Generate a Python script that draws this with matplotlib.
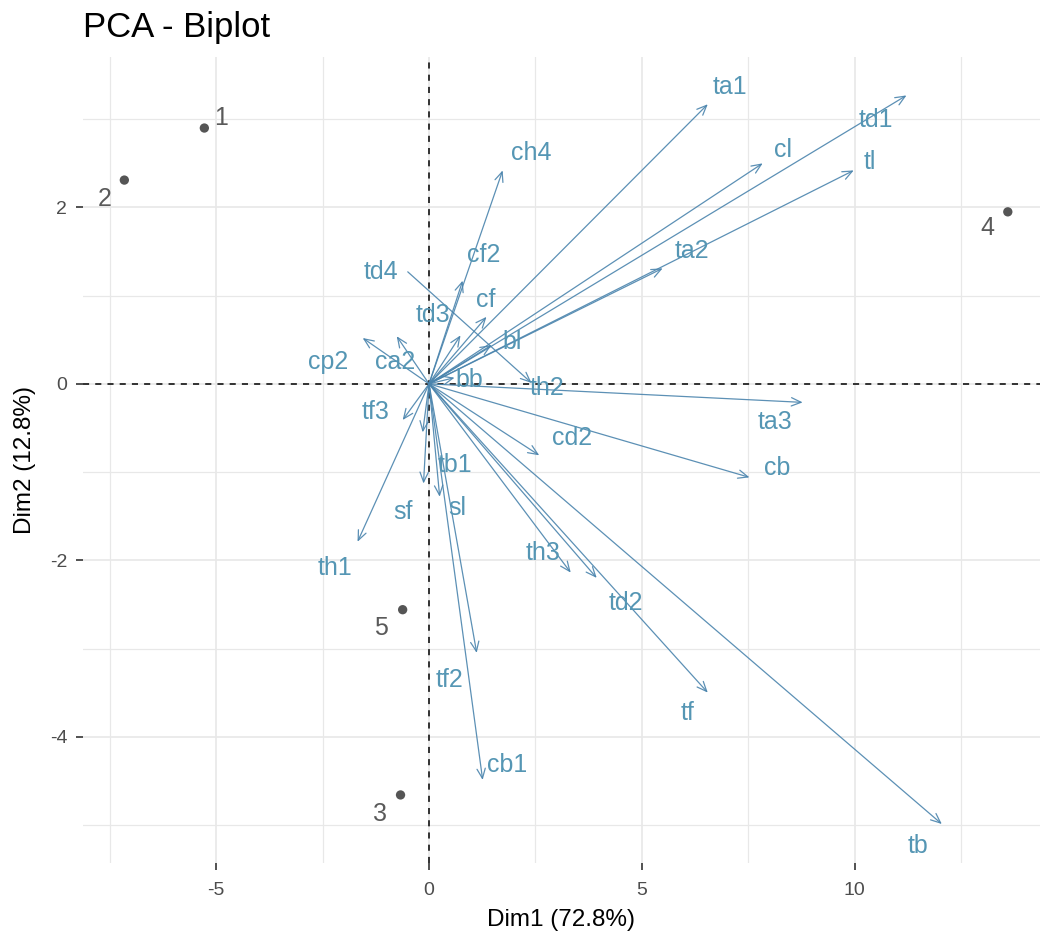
import matplotlib
matplotlib.use("Agg")
import matplotlib.pyplot as plt
import numpy as np

plt.rcParams['font.family'] = ['Liberation Sans', 'DejaVu Sans']

# Individuals (rows)
ind_names = ["1", "2", "3", "4", "5"]
ind_x = [-5.28, -7.16, -0.67, 13.60, -0.62]
ind_y = [2.90, 2.31, -4.66, 1.95, -2.56]
ind_lab_x = [-4.88, -7.63, -1.16, 13.13, -1.12]
ind_lab_y = [3.01, 2.10, -4.88, 1.77, -2.77]

# Variables (arrows)
var_names = ["ta1", "td1", "cl", "tl", "ta2", "ch4", "cf2", "td4", "cf", "td3",
             "bl", "cp2", "ca2", "bb", "th2", "tf3", "ta3", "cd2", "cb", "tb1",
             "sf", "sl", "th1", "th3", "td2", "tf2", "tf", "cb1", "tb"]
var_x = [6.55, 11.22, 7.84, 9.98, 5.49, 1.73, 0.79, -0.50, 1.35, 0.74,
         1.47, -1.56, -0.76, 0.60, 2.41, -0.62, 8.78, 2.59, 7.53, -0.15,
         -0.13, 0.25, -1.68, 3.33, 3.94, 1.12, 6.55, 1.26, 12.05]
var_y = [3.17, 3.27, 2.50, 2.42, 1.31, 2.42, 1.17, 1.27, 0.76, 0.55,
         0.44, 0.52, 0.54, 0.07, 0.01, -0.41, -0.21, -0.81, -1.06, -0.55,
         -1.13, -1.28, -1.79, -2.14, -2.20, -3.05, -3.50, -4.49, -4.99]
# where each arrow starts: "0" = origin, a name = that variable's tip,
# the variable's own name = no arrow drawn
var_start = ["0"] * 7 + ["td4"] + ["0"] * 6 + ["td4"] + ["0"] * 14
var_lab_x = [7.06, 10.49, 8.31, 10.35, 6.17, 2.41, 1.28, -1.12, 1.33, 0.08,
             1.96, -2.36, -0.79, 0.95, 2.78, -1.26, 8.14, 3.35, 8.17, 0.60,
             -0.62, 0.67, -2.22, 2.69, 4.62, 0.48, 6.08, 1.84, 11.48]
var_lab_y = [3.36, 2.99, 2.65, 2.51, 1.51, 2.62, 1.46, 1.27, 0.95, 0.78,
             0.47, 0.25, 0.25, 0.04, -0.05, -0.32, -0.43, -0.61, -0.95, -0.92,
             -1.45, -1.41, -2.09, -1.92, -2.48, -3.36, -3.73, -4.32, -5.24]

x_label = "Dim1 (72.8%)"
y_label = "Dim2 (12.8%)"
title = "PCA - Biplot"

fig = plt.figure(figsize=(10.46, 9.42), dpi=100)
ax = fig.add_axes([0.079, 0.084, 0.915, 0.855])
ax.set_xlim(-8.14, 14.35)
ax.set_ylim(-5.43, 3.70)

# grid
for v in np.arange(-7.5, 14.5, 2.5):
    ax.axvline(v, color="#e8e8e8", lw=1.2 if v % 5 == 0 else 0.9, zorder=0)
for v in np.arange(-5, 4, 1):
    ax.axhline(v, color="#e8e8e8", lw=1.2 if v % 2 == 0 else 0.9, zorder=0)
for s in ax.spines.values():
    s.set_visible(False)

ax.axhline(0, color="black", lw=1.1, ls=(0, (4, 4)), zorder=1)
ax.axvline(0, color="black", lw=1.1, ls=(0, (4, 4)), zorder=1)

arrow_col = "#4a84ad"
text_col = "#5596b4"
name_idx = {n: i for i, n in enumerate(var_names)}
for i, n in enumerate(var_names):
    if var_start[i] == n:
        pass
    else:
        if var_start[i] == "0":
            sx, sy = 0.0, 0.0
        else:
            j = name_idx[var_start[i]]
            sx, sy = var_x[j], var_y[j]
        ax.annotate("", xy=(var_x[i], var_y[i]), xytext=(sx, sy),
                    arrowprops=dict(arrowstyle="->,head_length=0.7,head_width=0.3",
                                    color=arrow_col, lw=0.9, alpha=0.9,
                                    shrinkA=0, shrinkB=0), zorder=3)
    ax.text(var_lab_x[i], var_lab_y[i], n, color=text_col, fontsize=18,
            ha="center", va="center", zorder=4)

ax.scatter(ind_x, ind_y, s=45, color="#555555", zorder=5, edgecolors="none")
for i, n in enumerate(ind_names):
    ax.text(ind_lab_x[i], ind_lab_y[i], n, color="#5a5a5a", fontsize=18,
            ha="center", va="center", zorder=5)

ax.set_xticks([-5, 0, 5, 10])
ax.set_xticklabels(["-5", "0", "5", "10"])
ax.set_yticks([-4, -2, 0, 2])
ax.set_yticklabels(["-4", "-2", "0", "2"])
ax.tick_params(axis="both", colors="#333333", labelcolor="#4d4d4d",
               labelsize=14, length=5, width=1.2)
ax.tick_params(axis="x", pad=9)
ax.tick_params(axis="y", pad=6)
ax.set_xlabel(x_label, fontsize=17.5, color="black", labelpad=7)
ax.set_ylabel(y_label, fontsize=17.5, color="black", labelpad=10)
fig.text(0.079, 0.961, title, fontsize=25, color="black", ha="left", va="baseline")

fig.savefig("out.png", dpi=100)
